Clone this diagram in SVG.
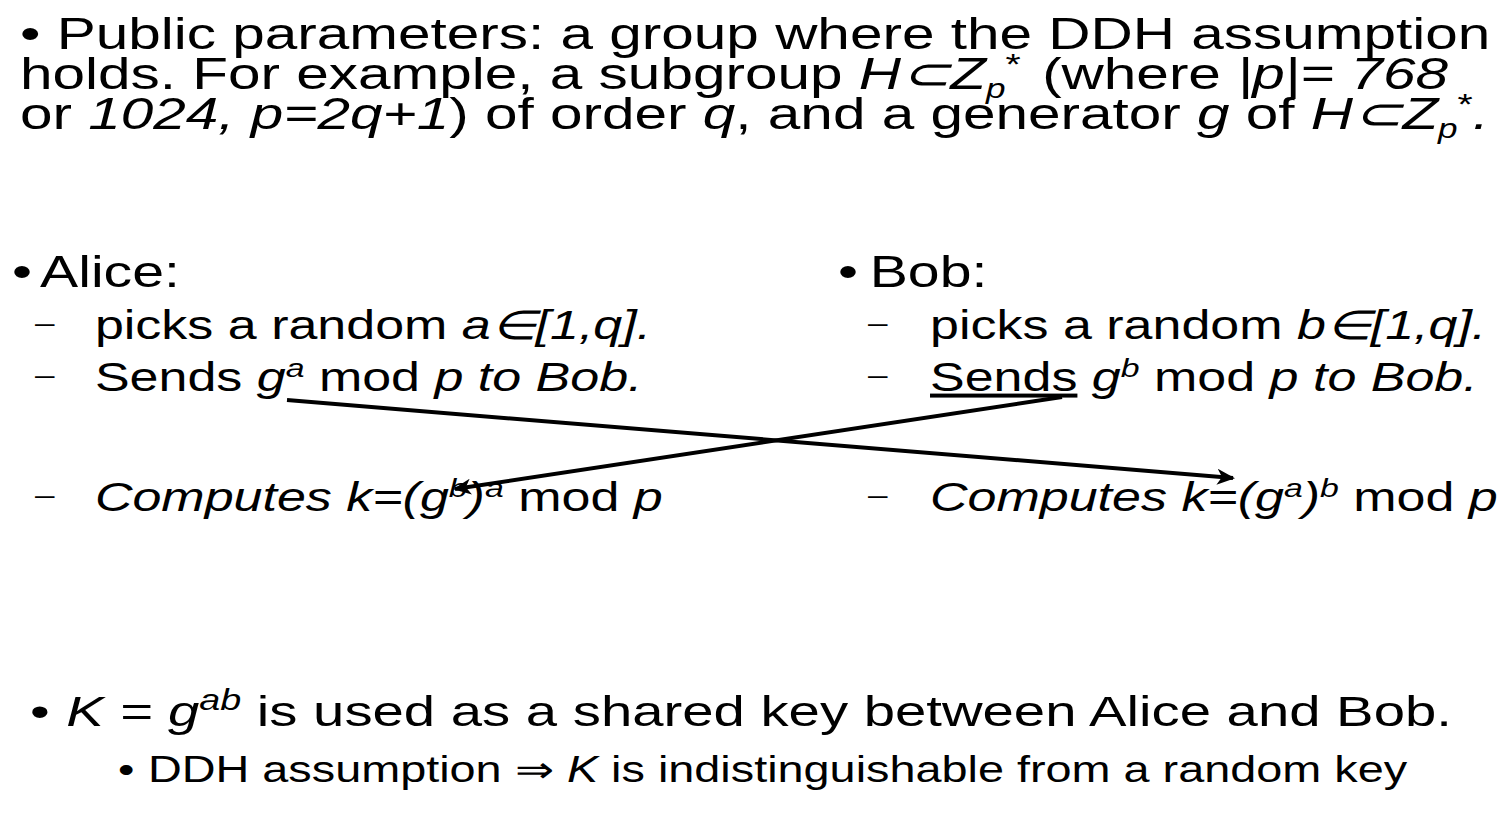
<svg xmlns="http://www.w3.org/2000/svg" width="1512" height="827" viewBox="0 0 1512 827">
<style>
text{font-family:"Liberation Sans",Arial,sans-serif;fill:#000}
.l1{font-size:45px}
.a1{font-size:44px}
.l2{font-size:40px}
.d{font-size:27px}
.k1{font-size:43.3px}
.l3{font-size:36px}
.i{font-style:italic}
.conn{stroke:#000;stroke-width:4;fill:none;marker-end:url(#ah)}
</style>
<defs>
<marker id="ah" viewBox="0 0 18 16" refX="16" refY="8" markerWidth="18" markerHeight="16" markerUnits="userSpaceOnUse" orient="auto">
<path d="M0,0 L18,8 L0,16 L5,8 z" fill="#000"/>
</marker>
</defs>
<rect width="1512" height="827" fill="#fff"/>
<g transform="scale(1.3,1)">
<g id="params" class="l1">
<text x="15.4" y="49">• Public parameters: a group where the DDH assumption</text>
<text x="15.4" y="89">holds. For example, a subgroup <tspan class="i">H⊂Z</tspan><tspan class="i" font-size="27" dy="9">p</tspan><tspan font-size="30" dy="-24">*</tspan><tspan dy="15" dx="4"> (where </tspan><tspan class="i">|p|= 768</tspan></text>
<text x="15.4" y="129">or <tspan class="i">1024, p=2q+1</tspan>) of order <tspan class="i">q</tspan>, and a generator <tspan class="i">g</tspan> of <tspan class="i">H⊂Z</tspan><tspan class="i" font-size="27" dy="9">p</tspan><tspan font-size="30" dy="-24">*</tspan><tspan class="i" dy="15">.</tspan></text>
</g>
<g id="alice">
<text class="a1" x="9.2" y="287">•</text>
<text class="a1" x="30.8" y="287">Alice:</text>
<text class="d" x="26.9" y="332">–</text>
<text class="l2" x="73" y="339">picks a random <tspan class="i">a∈[1,q].</tspan></text>
<text class="d" x="26.9" y="384">–</text>
<text class="l2" x="73" y="391">Sends <tspan class="i">g</tspan><tspan class="i" font-size="26" dy="-14">a</tspan><tspan dy="14"> mod </tspan><tspan class="i">p to Bob.</tspan></text>
<text class="d" x="26.9" y="504">–</text>
<text class="l2" x="73" y="511"><tspan class="i">Computes k=(g</tspan><tspan class="i" font-size="26" dy="-14">b</tspan><tspan class="i" dy="14">)</tspan><tspan class="i" font-size="26" dy="-14">a</tspan><tspan dy="14"> mod </tspan><tspan class="i">p</tspan></text>
</g>
<g id="bob">
<text class="a1" x="644.6" y="287">•</text>
<text class="a1" x="669" y="287">Bob:</text>
<text class="d" x="667.7" y="332">–</text>
<text class="l2" x="715.4" y="339">picks a random <tspan class="i">b∈[1,q].</tspan></text>
<text class="d" x="667.7" y="384">–</text>
<text class="l2" x="715.4" y="391"><tspan text-decoration="underline">Sends</tspan> <tspan class="i">g</tspan><tspan class="i" font-size="26" dy="-14">b</tspan><tspan dy="14"> mod </tspan><tspan class="i">p to Bob.</tspan></text>
<text class="d" x="667.7" y="504">–</text>
<text class="l2" x="715.4" y="511"><tspan class="i">Computes k=(g</tspan><tspan class="i" font-size="26" dy="-14">a</tspan><tspan class="i" dy="14">)</tspan><tspan class="i" font-size="26" dy="-14">b</tspan><tspan dy="14"> mod </tspan><tspan class="i">p</tspan></text>
</g>
<g id="sharedkey">
<text class="k1" x="23" y="726">•</text>
<text class="k1" x="51" y="726"><tspan class="i">K = g</tspan><tspan class="i" font-size="29" dy="-16">ab</tspan><tspan dy="16"> is used as a shared key between Alice and Bob.</tspan></text>
</g>
<g id="ddh">
<text class="l3" x="90.8" y="782">•</text>
<text class="l3" x="113.8" y="782">DDH assumption ⇒ <tspan class="i">K</tspan> is indistinguishable from a random key</text>
</g>
</g>
<g id="connectors">
<line class="conn" x1="287" y1="400" x2="1233" y2="478"/>
<line class="conn" x1="1062" y1="397" x2="455" y2="489"/>
</g>
</svg>
